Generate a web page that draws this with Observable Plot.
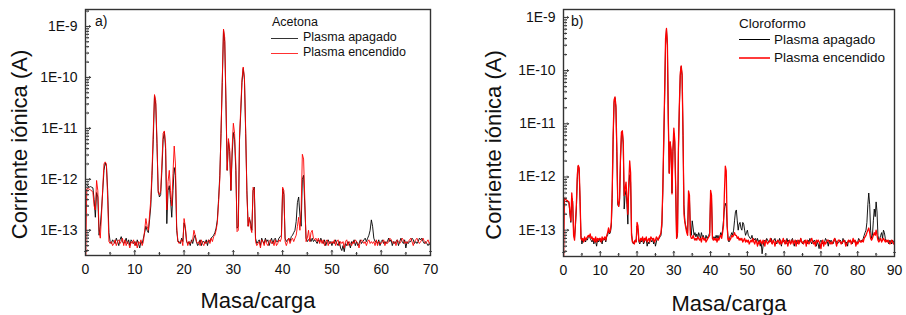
<!DOCTYPE html>
<html><head><meta charset="utf-8">
<script src="https://cdn.jsdelivr.net/npm/d3@7"></script>
<script src="https://cdn.jsdelivr.net/npm/@observablehq/plot@0.6"></script>
<style>
body{margin:0;background:#fff;font-family:"Liberation Sans",Arial,sans-serif;}
#wrap{position:relative;width:906px;height:315px;overflow:hidden;background:#fff}
.panel{position:absolute;top:0}
.lg{position:absolute;color:#111;white-space:nowrap;line-height:1}
.sw{position:absolute;height:0}
</style></head><body><div id="wrap"></div>
<script>
// Ion current values in units of 1e-14 A, sampled every 0.25 m/z from 0
const UNIT = 1e-14;
const STEP = 0.25;

const acetonaApagado = [
80,78,75,70, 72,70,68,40, 18,55,45,8, 12,25,60,150, 210,180,60,9,
6,5.5,6.5,6, 5.5,7,6,5, 6.5,7.5,6,5.5, 6,7,5.5,6.5, 5,6.5,6,5.5,
6,5,6.5,5.5, 4.5,6,5.5,7, 9,12,10,9, 16,30,120,600, 4400,3000,500,60,
45,50,150,600, 850,400,13.5,60, 75,40,18,60, 170,120,10,6, 6,5.5,7,6,
14,11,6,5.5, 6,5,6.5,5.5, 7,8,6,5, 5.5,6.5,5,6, 6,5.5,6.5,5,
6.5,6,7,7.5, 8,9,11,16, 40,120,800,8000, 85000,50000,3000,150, 550,350,60,300,
830,600,150,11, 12,600,2000,8000, 15000,9000,800,60, 12,17,14,10, 60,70,7,5.5,
6,6.5,5,7, 6,5.5,7,6, 6.5,5,6,7, 5.5,6.5,7,6, 6,7,7.5,8,
65,50,7,6, 6.5,7,6,7.5, 8,9,10,15, 35,45,20,12, 100,120,30,7,
6,6.5,7,6, 7,6,6.5,6, 5.5,6.5,6,7, 6,5.5,6.5,5, 6,6.5,5.5,6,
5,6,5.5,6.5, 5.5,5,6,4.5, 4,5,3.8,5.5, 5,6,5.5,4.5, 6,5.5,6.5,5,
6,5,5.5,6.5, 5.5,6,6.5,7, 6,7,8,10, 16,12,7,6, 6,5.5,6.5,5,
6,6.5,5.5,6, 5.5,6,7,6, 6.5,5,6,5.5, 6,6.5,5,6, 7,6,5.5,6.5,
4.5,6,5.5,6, 6,7,6.5,5.5, 6,5.5,6,7, 6.5,7,6,5.5, 6,5.5,5,5.5,
5
];
const acetonaEncendido = [
1,65,66,64, 62,60,55,30, 25,95,60,10, 7,20,70,200, 220,200,40,6,
5.5,6,5,5.5, 6.5,5,6,6.5, 5.5,6,7,5, 6.5,5,6,5.5, 4.5,6,5.5,6.5,
5,6,4.5,6, 5.5,6.5,5,6, 10,17,12,10, 20,40,150,900, 4600,3500,600,55,
50,60,200,800, 890,500,25,90, 150,60,30,130, 450,200,12,6, 5.5,6,6.5,5,
17,12,6.5,5, 6,5.5,6,6.5, 10,8,6,5.5, 6,5,6.5,5.5, 5,6,5.5,6,
6.5,5.5,7,6, 7.5,8,10,14, 35,100,900,9000, 89000,60000,3500,150, 630,400,62,400,
1260,800,200,9.4, 10,700,2500,9000, 16000,10000,900,50, 12,18,11,9, 70,65,6,5,
5.5,6,4.5,6.5, 6,5,6.5,5.5, 5,6,6.5,5.5, 6,5,6.5,5, 5.5,6.5,6,7,
70,60,6,5, 6,7,5.5,6.5, 7,6,7,8, 12,18,10,25, 310,250,40,6,
7,10,6,9, 10,7,6.5,7, 6,7,5.5,6.5, 5.5,6.5,5,6, 6.5,5,6,5.5,
6,5.5,6.5,5, 6,6.5,5,6, 5.5,6,4.5,6, 6.5,5,6,5.5, 5,6,5.5,6.5,
6,5.5,4.5,6, 6.5,6,5.5,6, 5,6,6.5,5.5, 6,5.5,6,5, 6.5,5,6,5.5,
5.5,6,6.5,5, 6,5.5,6,7, 6.5,6,5.5,6, 5,6.5,6,5.5, 6,7,6.5,5.5,
6,5.5,6,6.5, 7,6,5,6, 6.5,7,6,5.5, 6,6.5,7,6, 5.5,6,6.5,5.5,
6
];
const cloroformoApagado = [
38,36,35,34, 36,33,32,20, 14,40,35,9, 7,12,25,90, 160,140,35,8,
5.5,6.5,6,7, 6,7,6.5,7.5, 8,7,6.5,6, 7,5.5,6.5,6, 5,6.5,6,7,
6,6.5,5.5,7, 6.5,7,6,7.5, 8,10,8.5,9, 12,40,500,2500, 3100,2000,300,30,
28,35,200,600, 720,400,25,45, 56,30,13,60, 110,80,9,6, 5.5,6,6.5,6,
12,10,6,5.5, 6.5,6,7,5.5, 6,7,6.5,5, 6,5.5,7,6.5, 6,7,5.5,6.5,
5,6,7,6.5, 7,7.5,8,12, 50,400,3000,30000, 60000,30000,1100,120, 450,300,50,300,
660,450,60,7, 8,300,2000,8000, 12000,8000,600,30, 15,12,10,9, 45,40,10,8,
15,11,8,9, 7.5,8.5,7,9, 8,7,9,7.5, 8,7,6.5,8, 7,7.5,8,9,
50,40,8,7, 7.5,7,8,7, 8,7,7.5,9, 8,10,15,25, 32,28,12,7,
6,7.5,8,9, 8,10,15,22, 24,15,10,13, 14,11,10,14, 13,10,8,9,
10,8,7.5,7, 7,8,6.5,7, 6.5,7,6,7, 6,6.5,5,6, 3.6,5,6,6.5,
6,7,6.5,6, 6.5,6,7,5.5, 6,6.5,7,6, 5.5,6.5,6,7, 6,5,6.5,6,
6.5,6,5.5,7, 6,6.5,6,5.5, 6.5,7,6,5, 6,6.5,5.5,6, 6.5,6,7,6,
5.5,6,6.5,6, 6,5.5,6.5,6, 7,6,5.5,6.5, 6,6.5,6,5, 6,5.5,4.5,6,
6.5,6,5.5,6, 6,7,6.5,6, 5,6.5,6,6.5, 6,5.5,6,7, 6.5,6,5.5,6,
6,6.5,6,5.5, 7,6,6.5,5.5, 6,5,6.5,6, 6.5,6,5.5,6.5, 6,6.5,6,5.5,
6,7,6.5,6, 6.5,6,7,8, 9,10,14,30, 50,30,10,7, 8,15,25,18,
34,22,8,6.5, 7,8,9,7, 10,9,7,6, 6.5,6,5.5,6.5, 6,5.5,6.5,6,
6
];
const cloroformoEncendido = [
2,40,39,37, 36,35,34,22, 15,50,30,8, 6.5,14,30,110, 166,150,40,7,
6.5,7,6,7.5, 6.5,7,7.5,8, 7.5,8.5,7,7.5, 6.5,7,6,7.5, 6,7,6.5,7,
7,6,7.5,6.5, 7,7.5,6.5,8, 9,11,9,10, 14,60,600,2800, 3200,2200,350,35,
28,40,250,700, 740,450,45,60, 80,40,20,80, 200,120,8,6, 6,5.5,6.5,6,
14,12,6.5,6, 7,6.5,7.5,6, 7,6.5,7.5,6, 6.5,7,6,7.5, 7,6.5,7,6,
6.5,7.5,7,6.5, 7.5,8,9,14, 60,500,4000,40000, 62000,32000,1200,117, 460,320,48,320,
830,500,70,7, 9,350,2200,9000, 12300,8500,650,20, 14,11,9,8, 55,45,8,7,
7,8,7,6.5, 7,6.5,7.5,7, 6.5,7,6,7.5, 7,6.5,7,6, 6.5,7,7.5,8,
56,45,7,6.5, 7,6.5,7,6, 7,6.5,7.5,8, 7,9,12,50, 160,130,12,6.5,
7,6.5,7,8, 7.5,8,9,8, 8,7,7.5,6.5, 7,6.5,7,6, 6.5,7,6,6.5,
6,6.5,5.5,6, 6.5,6,7,6, 5.5,6.5,6,5, 6,5.5,6.5,6, 5.5,6.5,6,5,
6.5,6,5.5,6, 6,7,6,5.5, 6.5,6,5,6, 6,6.5,6,5.5, 6.5,5.5,6,7,
6,5.5,6.5,6, 5,6,6.5,5.5, 6,6.5,5.5,6, 6.5,5,6,6.5, 5.5,6,7,6,
6,5.5,6,6.5, 5,6.5,6,5.5, 6,6.5,7,6, 5.5,6,5,6.5, 6,6.5,6,5.5,
4.5,6,6.5,5, 6,5.5,6,6.5, 6.5,6,5.5,6, 5.5,6,6.5,7, 6,5,6,6.5,
6.5,6,5.5,6, 6,6.5,6,5, 5.5,6,6.5,6, 6.5,5.5,6,7, 6,6.5,5,6,
5.5,6,6.5,6, 6,6.5,6,7, 7.5,8,9,10, 11,9,7,6.5, 7,8,9,8,
10,8,6.5,6, 6.5,7,6,6.5, 7,6.5,6,6.5, 6,6.5,6,5.5, 6,6.5,6,5.5,
6
];

const yMajorTicks = [1e-13, 1e-12, 1e-11, 1e-10, 1e-9];
const xLabel = "Masa/carga";
const yLabel = "Corriente iónica (A)";
const seriesNames = ["Plasma apagado", "Plasma encendido"];
const seriesColors = ["#000000", "#ff0000"];

function toPoints(arr) { return arr.map((v, i) => ({x: i * STEP, y: v * UNIT})); }

function panel({left, xmax, ymin, ymax, ml, mr, mb, off, on, ylabDx, xlabDy, redWidth}) {
  const minorY = [];
  for (let e = -14; e <= -9; e++) for (let k = 2; k <= 9; k++) {
    const v = k * Math.pow(10, e);
    if (v >= ymin && v <= ymax) minorY.push(v);
  }
  const majorX = d3.range(0, xmax + 1, 10);
  const minorX = d3.range(5, xmax, 10);
  const frameCol = "#333";
  const chart = Plot.plot({
    width: 453, height: 315,
    marginLeft: ml, marginRight: mr, marginTop: 9, marginBottom: mb,
    style: {fontFamily: '"Liberation Sans", Arial, sans-serif', fontSize: "14px", color: "#111", background: "transparent", overflow: "visible"},
    x: {domain: [0, xmax]},
    y: {type: "log", domain: [ymin, ymax]},
    marks: [
      Plot.line(toPoints(off), {x: "x", y: "y", stroke: seriesColors[0], strokeWidth: 0.9, clip: true}),
      Plot.line(toPoints(on), {x: "x", y: "y", stroke: seriesColors[1], strokeWidth: redWidth, clip: true}),
      Plot.frame({stroke: frameCol, strokeWidth: 1.4}),
      Plot.axisX({ticks: majorX, tickSize: 0, tickPadding: 9, tickFormat: d => String(d), fontSize: 14, label: null}),
      Plot.axisY({ticks: yMajorTicks, tickSize: 0, tickPadding: 8, tickFormat: d => "1E" + Math.round(Math.log10(d)), fontSize: 14, label: null}),
      Plot.vector(majorX, {x: d => d, frameAnchor: "bottom", length: 5, rotate: 0, anchor: "start", stroke: frameCol, strokeWidth: 1}),
      Plot.vector(minorX, {x: d => d, frameAnchor: "bottom", length: 3, rotate: 0, anchor: "start", stroke: frameCol, strokeWidth: 1}),
      Plot.vector(yMajorTicks, {y: d => d, frameAnchor: "left", length: 5, rotate: 90, anchor: "start", stroke: frameCol, strokeWidth: 1}),
      Plot.vector(minorY, {y: d => d, frameAnchor: "left", length: 3, rotate: 90, anchor: "start", stroke: frameCol, strokeWidth: 1}),
      Plot.text([xLabel], {text: d => d, frameAnchor: "bottom", textAnchor: "middle", lineAnchor: "middle", dy: xlabDy, fontSize: 22, fill: "#111"}),
      Plot.text([yLabel], {text: d => d, frameAnchor: "left", textAnchor: "middle", lineAnchor: "middle", rotate: -90, dx: ylabDx, dy: 12, fontSize: 22, fill: "#111"})
    ]
  });
  chart.classList.add("panel");
  chart.style.left = left + "px";
  return chart;
}

const wrap = document.getElementById("wrap");
wrap.appendChild(panel({left: 0, xmax: 70, ymin: 3.2e-14, ymax: 2.15e-9, ml: 85, mr: 23, mb: 60,
  off: acetonaApagado, on: acetonaEncendido, ylabDx: -66, xlabDy: 45, redWidth: 0.9}));
wrap.appendChild(panel({left: 453, xmax: 90, ymin: 3.2e-14, ymax: 1.41e-9, ml: 110, mr: 12, mb: 59,
  off: cloroformoApagado, on: cloroformoEncendido, ylabDx: -70, xlabDy: 47, redWidth: 1.3}));

// Legends and panel letters (HTML overlay)
function addText(txt, x, yc, size) {
  const d = document.createElement("div");
  d.className = "lg"; d.textContent = txt;
  d.style.left = x + "px"; d.style.top = (yc - size * 0.55) + "px"; d.style.fontSize = size + "px";
  wrap.appendChild(d);
}
function addSwatch(x1, x2, y, color, w) {
  const d = document.createElement("div");
  d.className = "sw";
  d.style.left = x1 + "px"; d.style.width = (x2 - x1) + "px"; d.style.top = (y - w / 2) + "px";
  d.style.borderTop = w + "px solid " + color;
  wrap.appendChild(d);
}
addText("a)", 95, 22, 14);
addText("Acetona", 272, 23, 12.5);
addSwatch(271, 298, 38, "#333", 1);
addText(seriesNames[0], 303, 38, 12.5);
addSwatch(271, 298, 53, "#ff3030", 1);
addText(seriesNames[1], 303, 53, 12.5);

addText("b)", 571, 22, 14);
addText("Cloroformo", 739, 24, 13.5);
addSwatch(739, 770, 40, "#000", 1.2);
addText(seriesNames[0], 774, 40, 13.5);
addSwatch(739, 770, 58, "#ff3b3b", 2);
addText(seriesNames[1], 774, 58, 13.5);
</script>
</body></html>
